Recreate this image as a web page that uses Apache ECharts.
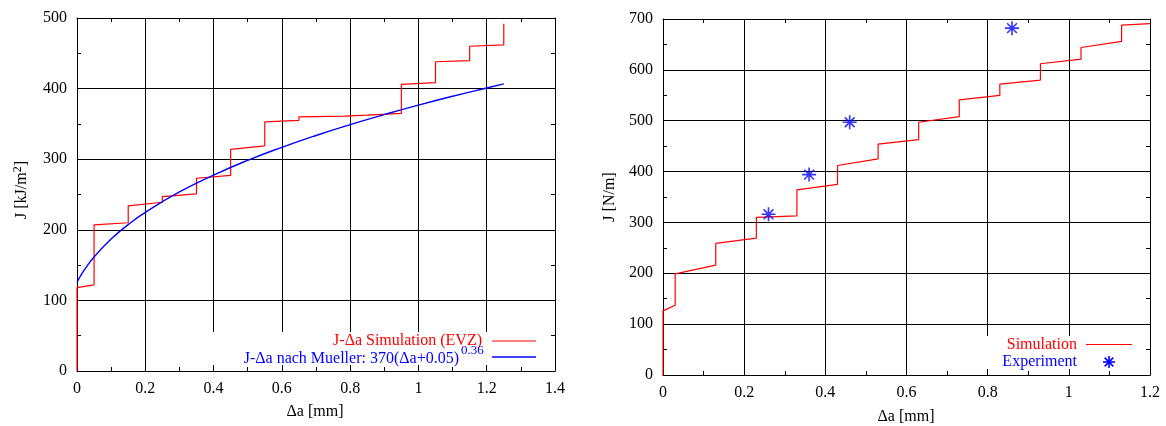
<!DOCTYPE html>
<html>
<head>
<meta charset="utf-8">
<script src="https://cdn.jsdelivr.net/npm/echarts@6/dist/echarts.min.js"></script>
<style>html,body{margin:0;padding:0;background:#fff;}#c{width:1166px;height:426px;}</style>
</head>
<body>
<div id="c"></div>
<script>
// ---- data ----
const leftSimDa = [0,0,0.05,0.05,0.15,0.15,0.25,0.25,0.35,0.35,0.45,0.45,0.55,0.55,0.65,0.65,0.785,0.785,0.85,0.85,0.95,0.95,1.05,1.05,1.15,1.15,1.25,1.25];
const leftSimJ  = [0,118,122,207,210,234,239,247,251,273,277,314,319,353,355,360,361,362,362.5,364.5,365,406,408.5,438,439.5,460,462,492];
const leftFitDa = [0,0.01,0.025,0.05,0.1,0.15,0.2,0.3,0.4,0.5,0.6,0.7,0.8,0.9,1.0,1.1,1.2,1.25];
const leftFitJ  = [125.8,134.4,145.6,161.5,186.9,207.3,224.6,253.6,277.5,298.4,316.8,333.6,349.0,363.2,376.6,389.1,400.9,406.6];
const rightSimDa = [0,0,0.03,0.03,0.13,0.13,0.23,0.23,0.33,0.33,0.43,0.43,0.53,0.53,0.63,0.63,0.73,0.73,0.83,0.83,0.93,0.93,1.03,1.03,1.13,1.13,1.2];
const rightSimJ  = [0,126,137,199,216,259,269,310,313,364,375,412,425,454,463,497,508,541,550,572,580,612,621,644,656,688,691];
const expDa = [0.26,0.36,0.46,0.86];
const expJ  = [316,394,497,682];
const leftX = {min:0, max:1.4, interval:0.2};
const leftY = {min:0, max:500, interval:100};
const rightX = {min:0, max:1.2, interval:0.2};
const rightY = {min:0, max:700, interval:100};
const leftLegend = ['J-\u0394a Simulation (EVZ)', 'J-\u0394a nach Mueller: 370(\u0394a+0.05)', '0.36'];
const rightLegend = ['Simulation', 'Experiment'];

const FONT = '"Liberation Serif", "DejaVu Serif", serif';
const zip = (a,b) => a.map((v,i)=>[v,b[i]]);

function axis(gi, r, pos, main) {
  return {
    type:'value', gridIndex:gi, position:pos, min:r.min, max:r.max, interval:r.interval,
    axisLine:{show:true, onZero:false, lineStyle:{color:'#000', width:1}},
    axisTick:{show:true, inside:true, length:6, lineStyle:{color:'#000'}},
    minorTick:{show:true, splitNumber:2, length:4, lineStyle:{color:'#000'}},
    splitLine:{show:main, lineStyle:{color:'#000', width:1}},
    axisLabel:{show:main, fontFamily:FONT, fontSize:16, color:'#000', margin:10},
    z:0
  };
}

const star = 'path://M0,-10L0,10M-10,0L10,0M-7,-7L7,7M-7,7L7,-7';

function starLines(cx, cy, r) {
  const d = r*0.72;
  const segs = [[0,-r,0,r],[-r,0,r,0],[-d,-d,d,d],[-d,d,d,-d]];
  return segs.map(s => ({type:'line', z:100, shape:{x1:cx+s[0], y1:cy+s[1], x2:cx+s[2], y2:cy+s[3]},
    style:{stroke:'#0000ff', lineWidth:1.6}}));
}

const chart = echarts.init(document.getElementById('c'));
chart.setOption({
  animation:false,
  backgroundColor:'#fff',
  grid:[
    {left:77, right:611, top:18, bottom:55},
    {left:663, right:16, top:19, bottom:51}
  ],
  xAxis:[
    axis(0,leftX,'bottom',true), axis(0,leftX,'top',false),
    axis(1,rightX,'bottom',true), axis(1,rightX,'top',false)
  ],
  yAxis:[
    axis(0,leftY,'left',true), axis(0,leftY,'right',false),
    axis(1,rightY,'left',true), axis(1,rightY,'right',false)
  ],
  series:[
    {type:'line', xAxisIndex:0, yAxisIndex:0, data:zip(leftSimDa,leftSimJ), showSymbol:false, symbol:'none',
     lineStyle:{color:'#ff0000', width:1.2}, z:3},
    {type:'line', xAxisIndex:0, yAxisIndex:0, data:zip(leftFitDa,leftFitJ), showSymbol:false, symbol:'none', smooth:true,
     lineStyle:{color:'#0000ff', width:1.4}, z:4},
    {type:'line', xAxisIndex:2, yAxisIndex:2, data:zip(rightSimDa,rightSimJ), showSymbol:false, symbol:'none',
     lineStyle:{color:'#ff0000', width:1.2}, z:3},
    {type:'scatter', xAxisIndex:2, yAxisIndex:2, data:zip(expDa,expJ), symbol:star, symbolSize:14,
     itemStyle:{color:'rgba(0,0,0,0)', borderColor:'#0000ff', borderWidth:1.6}, z:4}
  ],
  graphic:[
    {type:'rect', z:1, shape:{x:190, y:332, width:356, height:33}, style:{fill:'#fff'}},
    {type:'rect', z:1, shape:{x:920, y:336, width:222, height:33}, style:{fill:'#fff'}},
    {type:'text', z:100, x:482, y:341, style:{text:leftLegend[0], font:'16px '+FONT, fill:'#ff0000', align:'right', verticalAlign:'middle'}},
    {type:'line', z:100, shape:{x1:492, y1:341, x2:536, y2:341}, style:{stroke:'#ff0000', lineWidth:1.2}},
    {type:'text', z:100, x:459, y:359, style:{text:leftLegend[1], font:'16px '+FONT, fill:'#0000ff', align:'right', verticalAlign:'middle'}},
    {type:'text', z:100, x:461, y:351, style:{text:leftLegend[2], font:'13px '+FONT, fill:'#0000ff', align:'left', verticalAlign:'middle'}},
    {type:'line', z:100, shape:{x1:492, y1:357, x2:536, y2:357}, style:{stroke:'#0000ff', lineWidth:1.4}},
    {type:'text', z:100, x:1077, y:345, style:{text:rightLegend[0], font:'16px '+FONT, fill:'#ff0000', align:'right', verticalAlign:'middle'}},
    {type:'line', z:100, shape:{x1:1086, y1:344.5, x2:1132, y2:344.5}, style:{stroke:'#ff0000', lineWidth:1.2}},
    {type:'text', z:100, x:1077, y:362, style:{text:rightLegend[1], font:'16px '+FONT, fill:'#0000ff', align:'right', verticalAlign:'middle'}},
    ...starLines(1109, 362, 6),
    {type:'text', z:100, x:315, y:412, style:{text:'\u0394a [mm]', font:'16px '+FONT, fill:'#000', align:'center', verticalAlign:'middle'}},
    {type:'text', z:100, x:906, y:417, style:{text:'\u0394a [mm]', font:'16px '+FONT, fill:'#000', align:'center', verticalAlign:'middle'}},
    {type:'text', z:100, x:22, y:190, rotation:Math.PI/2,
     style:{text:'J [kJ/m{sup|2}]', font:'16px '+FONT, fill:'#000', align:'center', verticalAlign:'middle',
            rich:{sup:{fontSize:12, fontFamily:FONT, fill:'#000', verticalAlign:'top', padding:[0,0,8,0]}}}},
    {type:'text', z:100, x:610, y:197, rotation:Math.PI/2,
     style:{text:'J [N/m]', font:'16px '+FONT, fill:'#000', align:'center', verticalAlign:'middle'}}
  ]
});
</script>
</body>
</html>
